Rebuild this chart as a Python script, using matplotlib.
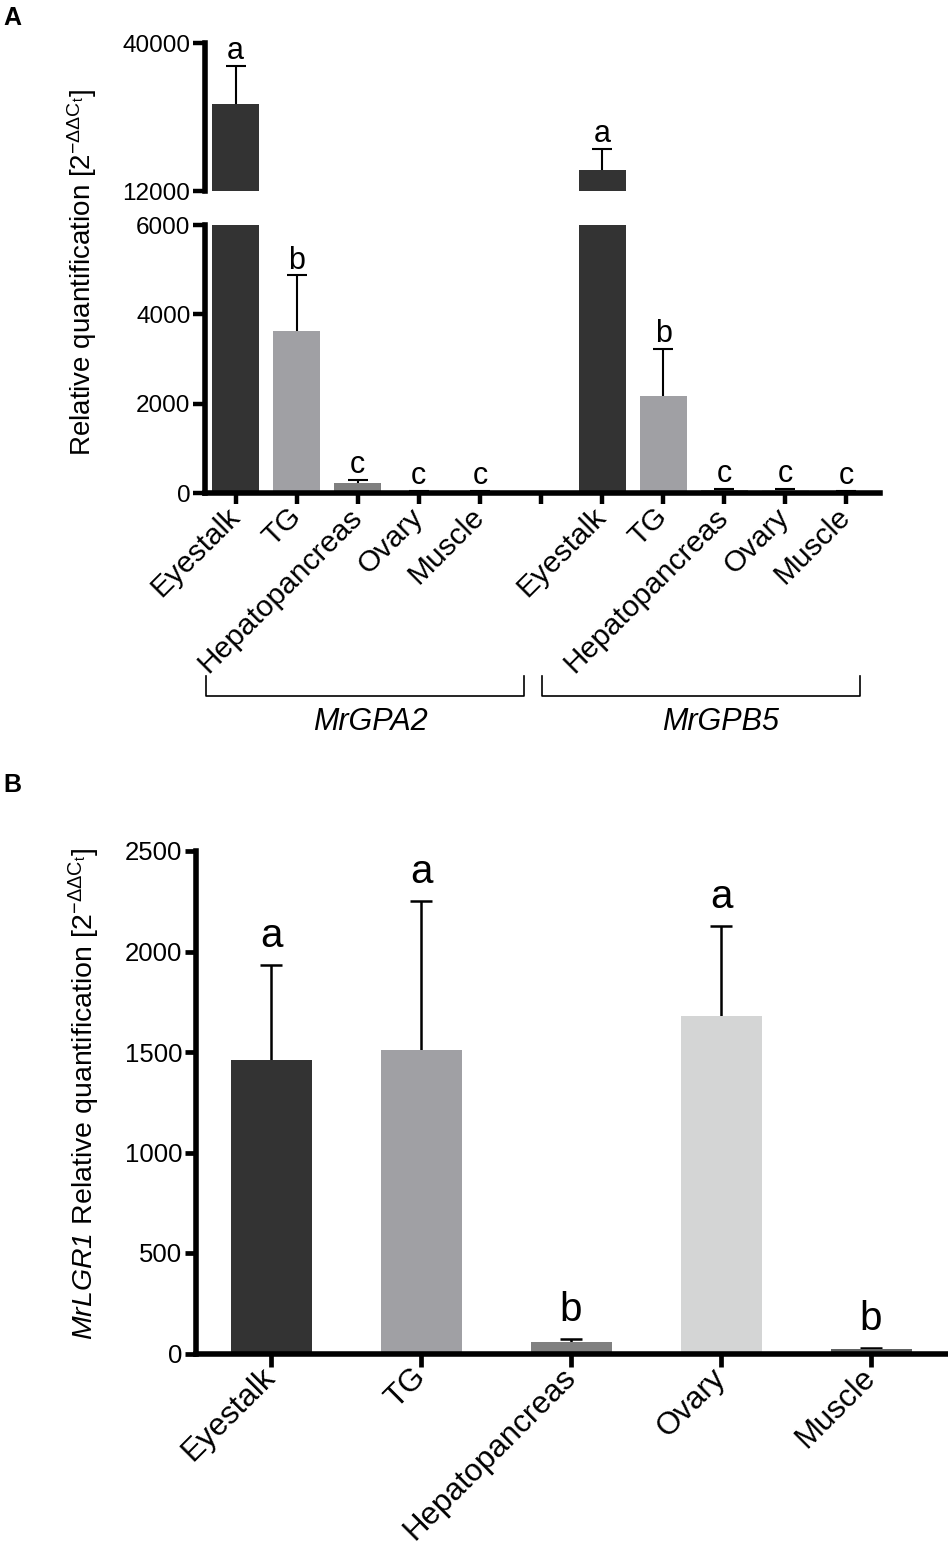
import matplotlib
matplotlib.use('Agg')
import matplotlib.pyplot as plt
import matplotlib.transforms as mtransforms
import numpy as np

plt.rcParams['font.family'] = ['Liberation Sans', 'DejaVu Sans']
plt.rcParams['mathtext.fontset'] = 'custom'
plt.rcParams['mathtext.rm'] = 'Liberation Sans'
plt.rcParams['mathtext.it'] = 'Liberation Sans:italic'
plt.rcParams['mathtext.sf'] = 'Liberation Sans:italic'
plt.rcParams['mathtext.bf'] = 'Liberation Sans:bold'

# ---- data ----
tissues = ['Eyestalk', 'TG', 'Hepatopancreas', 'Ovary', 'Muscle']
genes_a = ['MrGPA2', 'MrGPB5']
gpa2_mean = [28500, 3620, 220, 30, 30]
gpa2_err = [7150, 1250, 70, 15, 10]
gpb5_mean = [16000, 2170, 60, 70, 25]
gpb5_err = [4000, 1060, 20, 20, 10]
letters_a = ['a', 'b', 'c', 'c', 'c']

lgr1_mean = [1460, 1510, 55, 1680, 20]
lgr1_err = [475, 740, 15, 445, 8]
letters_b = ['a', 'a', 'b', 'a', 'b']

colors = ['#333333', '#a0a0a4', '#7f7f7f', '#d4d4d4', '#d8d8d8']
colors_b = ['#333333', '#a0a0a4', '#808080', '#d4d5d5', '#606262']

ylab = r'Relative quantification [2$^{-\Delta\Delta \mathrm{C_t}}$]'

W, H = 948, 1550
fig = plt.figure(figsize=(W / 100, H / 100), dpi=100)

def px_axes(left, right, top, bottom):
    return fig.add_axes([left / W, 1 - bottom / H, (right - left) / W, (bottom - top) / H])

def up_errorbar(ax, x, y, e, lw, cap):
    # only the upper half of the error bar, no cap at the bar top
    eb = ax.errorbar(x, y, yerr=[np.zeros(len(e)), e], fmt='none', ecolor='black',
                     elinewidth=lw, capsize=cap, capthick=lw, zorder=1)
    eb[1][0].set_visible(False)

ax_up = px_axes(205, 880, 43, 191)
ax_lo = px_axes(205, 880, 225, 493)
ax_b = px_axes(196, 946, 851, 1353.5)

lw_spine = 4.0

# ---- panel A (broken axis) ----
x1 = np.arange(5)
x2 = np.arange(6, 11)
means = gpa2_mean + gpb5_mean
errs = gpa2_err + gpb5_err
xs = np.concatenate([x1, x2])
cols = colors + colors
labs = letters_a + letters_a

for ax in (ax_up, ax_lo):
    up_errorbar(ax, xs, means, errs, 1.5, 7)
    ax.bar(xs, means, width=0.77, color=cols, zorder=2)
    ax.set_xlim(-0.5, 10.55)
    for s in ['top', 'right']:
        ax.spines[s].set_visible(False)
    ax.spines['left'].set_linewidth(lw_spine)
    ax.spines['bottom'].set_linewidth(lw_spine)
    ax.tick_params(axis='y', which='major', direction='out', length=8.5, width=3.2,
                   labelsize=17.5, pad=2)
    ax.tick_params(axis='y', which='minor', direction='inout', length=17, width=3.2)

ax_up.set_ylim(12000, 40000)
ax_up.set_yticks([12000, 40000])
ax_up.set_yticks([12000], minor=True)
ax_up.spines['bottom'].set_visible(False)
ax_up.set_xticks([])

ax_lo.set_ylim(0, 6000)
ax_lo.set_yticks([0, 2000, 4000, 6000])
ax_lo.set_yticks([6000], minor=True)
ax_lo.set_xticks(np.arange(11))
ax_lo.set_xticklabels(tissues + [''] + tissues, rotation=45, ha='right',
                      rotation_mode='anchor', va='center', fontsize=21.5)
ax_lo.tick_params(axis='x', direction='out', length=8, width=3.2, pad=6)

for x, m, e, l in zip(xs, means, errs, labs):
    top = m + e
    ax = ax_up if top > 12000 else ax_lo
    ax.annotate(l, (x, top), xytext=(0, 5), textcoords='offset points',
                ha='center', va='baseline', fontsize=22)

# group brackets under the labels
trans = mtransforms.blended_transform_factory(ax_lo.transData, ax_lo.transAxes)
brackets = [(-0.49, 4.73), (5.02, 10.23)]
label_x = [2.21, 7.94]
for (a, b), g, lx in zip(brackets, genes_a, label_x):
    ax_lo.plot([a, a, b, b], [-0.683, -0.757, -0.757, -0.683], color='black', lw=1.2,
               transform=trans, clip_on=False)
    ax_lo.text(lx, -0.855, g, transform=trans, ha='center', va='center',
               fontsize=22, style='italic')

fig.text(82 / W, 1 - 273 / H, ylab, rotation=90, ha='center', va='center', fontsize=20)

# ---- panel B ----
xb = np.arange(5)
up_errorbar(ax_b, xb, lgr1_mean, lgr1_err, 1.8, 8)
ax_b.bar(xb, lgr1_mean, width=0.54, color=colors_b, zorder=2)
ax_b.set_xlim(-0.5, 4.5)
ax_b.set_ylim(0, 2500)
ax_b.set_yticks(np.arange(0, 2501, 500))
ax_b.set_xticks(xb)
ax_b.set_xticklabels(tissues, rotation=45, ha='right', rotation_mode='anchor',
                     va='center', fontsize=22.5)
for s in ['top', 'right']:
    ax_b.spines[s].set_visible(False)
ax_b.spines['left'].set_linewidth(lw_spine)
ax_b.spines['bottom'].set_linewidth(lw_spine)
ax_b.tick_params(axis='y', direction='out', length=8, width=3.4, labelsize=18.5, pad=2)
ax_b.tick_params(axis='x', direction='out', length=9, width=3.4, pad=5)

for x, m, e, l in zip(xb, lgr1_mean, lgr1_err, letters_b):
    ax_b.annotate(l, (x, m + e), xytext=(0, 13), textcoords='offset points',
                  ha='center', va='baseline', fontsize=29)

fig.text(84 / W, 1 - 1094 / H, r'$\mathsf{MrLGR1}$ ' + ylab, rotation=90, ha='center',
         va='center', fontsize=20.5)

fig.text(3 / W, 1 - 25 / H, 'A', fontsize=18, fontweight='bold', va='baseline')
fig.text(3 / W, 1 - 792 / H, 'B', fontsize=18, fontweight='bold', va='baseline')

fig.savefig('out.png', dpi=100)
plt.close(fig)
